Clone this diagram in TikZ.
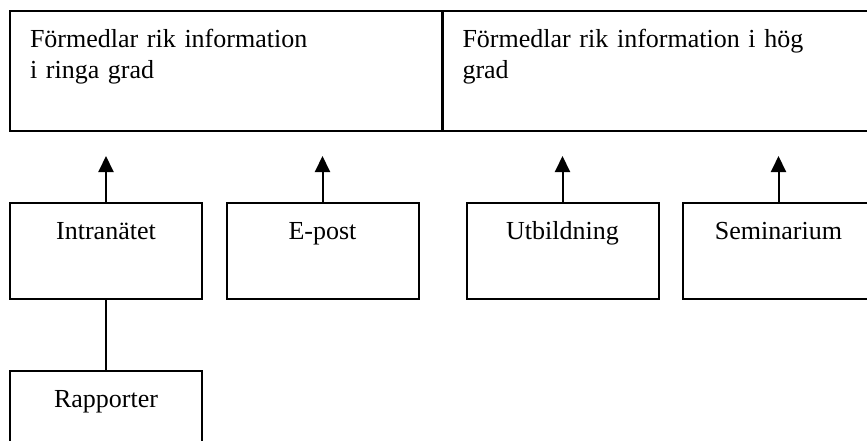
\documentclass[tikz,border=0pt]{standalone}
\usepackage{fontspec}
\setmainfont{Liberation Serif}
\usetikzlibrary{arrows.meta}
\tikzset{
  box/.style={shape=rectangle,draw,line width=1pt,inner sep=0pt,
    minimum width=96pt,text height=18pt,text depth=30pt,
    font=\fontsize{13}{15.8}\selectfont},
  cell/.style={shape=rectangle,draw,line width=1pt,inner xsep=10pt,inner ysep=0pt,
    text width=196pt,align=left,text height=18pt,text depth=42pt,
    font=\fontsize{13}{15.8}\selectfont},
  up/.style={-{Triangle[width=7.5pt,length=8pt]},line width=1pt}
}
\begin{document}
\begin{tikzpicture}[x=0.5pt,y=-0.5pt]
\useasboundingbox (0,0) rectangle (867,440);
\clip (0,0) rectangle (867,440);
\node(low) at (226,71.25)[cell]   {Förmedlar rik information\\i ringa grad};
\node(high) at (658.5,71.25)[cell] {Förmedlar rik information i hög\\grad};
\node(intra) at (106,251)[box]    {Intranätet};
\node(epost) at (322.5,251)[box]  {E-post};
\node(utb) at (562.5,251)[box]    {Utbildning};
\node(sem) at (778.5,251)[box]    {Seminarium};
\node(rapp) at (106,419)[box]     {Rapporter};
\coordinate(intratip) at (106,156);
\coordinate(eposttip) at (322.5,156);
\coordinate(utbtip) at (562.5,156);
\coordinate(semtip) at (778.5,156);
\path [up]
  (intra)  edge  (intratip)
  (epost)  edge  (eposttip)
  (utb)    edge  (utbtip)
  (sem)    edge  (semtip);
\path [-,line width=1pt]
  (intra)  edge  (rapp);
\end{tikzpicture}
\end{document}
